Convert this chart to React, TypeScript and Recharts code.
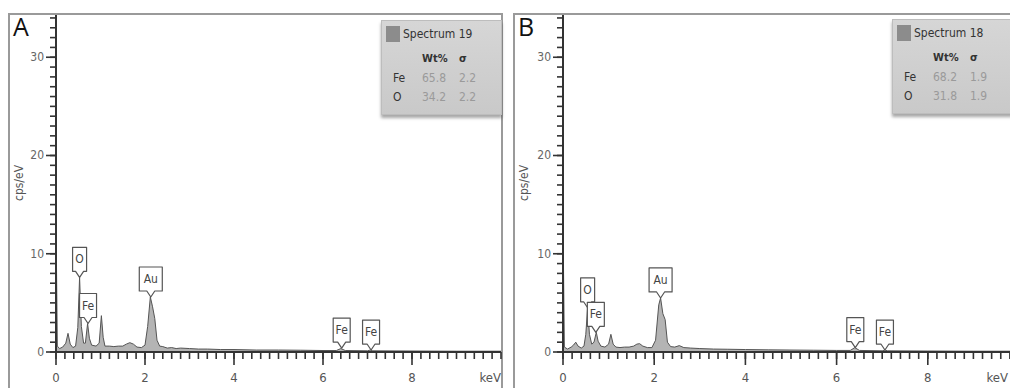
import React from 'react';
import { AreaChart, Area, XAxis, YAxis, ReferenceDot } from 'recharts';

// EDS spectra, [keV, cps/eV]
const spectrumA: [number, number][] = [
  [0, 0], [0.01, 9.2], [0.03, 0.6], [0.08, 0.35], [0.15, 0.5], [0.22, 0.9], [0.27, 1.9], [0.32, 0.8],
  [0.38, 0.45], [0.44, 0.6], [0.49, 2.5], [0.53, 7.6], [0.57, 2.6], [0.62, 0.9], [0.66, 0.9], [0.71, 2.9],
  [0.75, 1.4], [0.8, 0.7], [0.9, 0.6], [0.97, 0.9], [1.02, 3.7], [1.06, 1.5], [1.1, 0.6], [1.2, 0.6],
  [1.3, 0.55], [1.4, 0.6], [1.5, 0.6], [1.58, 0.8], [1.66, 0.95], [1.74, 0.8], [1.82, 0.5], [1.92, 0.45],
  [2.0, 0.7], [2.06, 2.6], [2.12, 5.6], [2.17, 4.6], [2.22, 3.4], [2.27, 1.2], [2.33, 0.6], [2.4, 0.55],
  [2.5, 0.4], [2.6, 0.45], [2.7, 0.35], [2.8, 0.4], [3.0, 0.35], [3.2, 0.3], [3.4, 0.3], [3.7, 0.25],
  [4.0, 0.25], [4.5, 0.2], [5.0, 0.2], [5.5, 0.18], [6.0, 0.15], [6.3, 0.15], [6.4, 0.35], [6.5, 0.15],
  [7.0, 0.12], [7.06, 0.2], [7.12, 0.12], [8.0, 0.1], [9.0, 0.08], [10, 0.08],
];

const spectrumB: [number, number][] = [
  [0, 0], [0.01, 9.0], [0.03, 0.5], [0.1, 0.3], [0.18, 0.5], [0.23, 0.7], [0.28, 1.0], [0.33, 0.6],
  [0.4, 0.4], [0.46, 0.6], [0.5, 1.8], [0.54, 4.5], [0.58, 1.8], [0.63, 0.8], [0.68, 1.0], [0.73, 2.0],
  [0.77, 1.1], [0.83, 0.6], [0.92, 0.5], [1.0, 0.8], [1.05, 1.8], [1.1, 0.8], [1.16, 0.5], [1.25, 0.45],
  [1.35, 0.5], [1.45, 0.5], [1.55, 0.6], [1.62, 0.8], [1.68, 0.85], [1.75, 0.6], [1.85, 0.45], [1.95, 0.45],
  [2.03, 1.2], [2.1, 4.8], [2.14, 5.5], [2.19, 3.9], [2.24, 3.3], [2.29, 1.0], [2.36, 0.55], [2.45, 0.5],
  [2.55, 0.65], [2.65, 0.45], [2.8, 0.4], [3.0, 0.35], [3.3, 0.3], [3.6, 0.28], [4.0, 0.25], [4.5, 0.22],
  [5.0, 0.2], [5.5, 0.18], [6.0, 0.16], [6.3, 0.16], [6.4, 0.45], [6.5, 0.16], [7.0, 0.12], [7.06, 0.2],
  [7.12, 0.12], [8.0, 0.1], [9.0, 0.08], [10, 0.08],
];

// peak labels: [keV, cps/eV, element]
const peaksA: [number, number, string][] = [
  [0.53, 7.6, 'O'], [0.72, 2.9, 'Fe'], [2.13, 5.6, 'Au'], [6.42, 0.4, 'Fe'], [7.08, 0.2, 'Fe'],
];
const peaksB: [number, number, string][] = [
  [0.54, 4.5, 'O'], [0.72, 2.0, 'Fe'], [2.14, 5.5, 'Au'], [6.41, 0.45, 'Fe'], [7.06, 0.2, 'Fe'],
];

const quantA = { name: 'Spectrum 19', rows: [['Fe', '65.8', '2.2'], ['O', '34.2', '2.2']] };
const quantB = { name: 'Spectrum 18', rows: [['Fe', '68.2', '1.9'], ['O', '31.8', '1.9']] };

const xMajor = [0, 2, 4, 6, 8];
const yMajor = [0, 10, 20, 30];
const xTicks = Array.from({ length: 51 }, (_, i) => Math.round(i * 2) / 10);
const yTicks = Array.from({ length: 35 }, (_, i) => i);

const FONT = "'Liberation Sans Narrow', 'DejaVu Sans Condensed', 'Open Sans', sans-serif";
const INK = '#333';

// recharts draws the short tick; majors get an extra stretch here
const XTick = (props: any) => {
  const { x, y, payload, unitShift } = props;
  const v = payload.value;
  const major = xMajor.includes(v);
  return (
    <g>
      {major && <rect x={x - 0.8} y={y - 7} width={1.6} height={13} fill={INK} />}
      {major && (
        <text x={x} y={y + 23} textAnchor="middle" fontSize={13} fill="#555" fontFamily={FONT}>
          {v}
        </text>
      )}
      {v === 10 && (
        <text x={x - (unitShift || 0)} y={y + 23} textAnchor="end" fontSize={13} fill="#555" fontFamily={FONT}>
          keV
        </text>
      )}
    </g>
  );
};

const YTick = (props: any) => {
  const { x, y, payload } = props;
  const v = payload.value;
  const major = yMajor.includes(v);
  return (
    <g>
      {major && <rect x={x - 4} y={y - 0.8} width={10} height={1.6} fill={INK} />}
      {major && (
        <text x={x - 6} y={y + 4} textAnchor="end" fontSize={12} fill="#666" fontFamily={FONT}>
          {v}
        </text>
      )}
    </g>
  );
};

const Callout = (props: any) => {
  const { cx, cy, label } = props;
  if (cx == null || cy == null) return null;
  const w = label === 'O' ? 14 : label === 'Au' ? 23 : 17;
  const h = 24;
  const p = 6;
  const x0 = cx - w / 2;
  const x1 = cx + w / 2;
  const yb = cy - p;
  const yt = yb - h;
  const d = `M${x0},${yt} H${x1} V${yb} H${cx + 4} L${cx},${cy} L${cx - 4},${yb} H${x0} Z`;
  return (
    <g>
      <path d={d} fill="#fff" stroke="#555" strokeWidth={1.2} strokeLinejoin="round" />
      <text x={cx} y={yt + h / 2 + 4} textAnchor="middle" fontSize={12} fill="#444" fontFamily={FONT}>
        {label}
      </text>
    </g>
  );
};

type SpectrumProps = {
  data: [number, number][];
  peaks: [number, number, string][];
  width: number;
  unitShift?: number;
};

const Spectrum = ({ data, peaks, width, unitShift = 0 }: SpectrumProps) => {
  const rows = data.map(([kev, cps]) => ({ kev, cps }));
  return (
    <AreaChart width={width} height={388} data={rows} margin={{ top: 15, right: 1, bottom: 0, left: 0 }}>
      <XAxis
        dataKey="kev"
        type="number"
        domain={[0, 10]}
        ticks={xTicks}
        interval={0}
        allowDataOverflow
        height={36}
        tickSize={7}
        tickMargin={0}
        tickLine={{ stroke: INK, strokeWidth: 1.6 }}
        axisLine={{ stroke: INK, strokeWidth: 2 }}
        tick={<XTick unitShift={unitShift} />}
      />
      <YAxis
        type="number"
        domain={[0, 34.3]}
        ticks={yTicks}
        interval={0}
        allowDataOverflow
        width={56}
        tickSize={6}
        tickMargin={0}
        tickLine={{ stroke: INK, strokeWidth: 1.6 }}
        axisLine={{ stroke: INK, strokeWidth: 2 }}
        tick={<YTick />}
      />
      <Area
        type="linear"
        dataKey="cps"
        stroke="#555"
        strokeWidth={1}
        fill="#b4b4b4"
        fillOpacity={1}
        isAnimationActive={false}
        dot={false}
        activeDot={false}
      />
      {peaks.map(([k, v, el], i) => (
        <ReferenceDot
          key={i}
          x={k}
          y={v}
          r={0}
          ifOverflow="visible"
          shape={(p: any) => <Callout {...p} label={el} />}
        />
      ))}
    </AreaChart>
  );
};

const Quant = ({ q, left, top }: { q: typeof quantA; left: number; top: number }) => (
  <div
    style={{
      position: 'absolute',
      left,
      top,
      width: 119,
      height: 93,
      background: 'linear-gradient(#d6d6d6, #c9c9c9)',
      border: '1px solid #bdbdbd',
      boxShadow: '0 3px 3px rgba(0,0,0,0.35)',
      fontFamily: FONT,
      color: '#333',
    }}
  >
    <div style={{ position: 'absolute', left: 4, top: 5, width: 14, height: 16, background: '#8c8c8c' }} />
    <div style={{ position: 'absolute', left: 21, top: 6, fontSize: 12 }}>{q.name}</div>
    <div style={{ position: 'absolute', left: 40, top: 31, fontSize: 11, fontWeight: 'bold' }}>Wt%</div>
    <div style={{ position: 'absolute', left: 77, top: 31, fontSize: 11, fontWeight: 'bold' }}>σ</div>
    {q.rows.map(([el, wt, s], i) => (
      <React.Fragment key={el}>
        <div style={{ position: 'absolute', left: 11, top: 50 + i * 19, fontSize: 12 }}>{el}</div>
        <div style={{ position: 'absolute', left: 40, top: 50 + i * 19, fontSize: 12, color: '#9a9a9a' }}>{wt}</div>
        <div style={{ position: 'absolute', left: 77, top: 50 + i * 19, fontSize: 12, color: '#9a9a9a' }}>{s}</div>
      </React.Fragment>
    ))}
  </div>
);

const frame = (left: number, width: number): React.CSSProperties => ({
  position: 'absolute',
  left,
  top: 13,
  width,
  height: 400,
  border: '2px solid #9a9a9a',
  boxSizing: 'border-box',
});

const panelLetter: React.CSSProperties = {
  position: 'absolute',
  fontFamily: "'Open Sans', sans-serif",
  fontSize: 25,
  color: '#111',
  lineHeight: '25px',
};

const yTitle: React.CSSProperties = {
  position: 'absolute',
  fontFamily: FONT,
  fontSize: 12,
  color: '#555',
  transform: 'rotate(-90deg)',
  transformOrigin: 'center',
  width: 60,
  textAlign: 'center',
};

export default function App() {
  return (
    <div style={{ position: 'absolute', left: 0, top: 0, width: 1010, height: 388, overflow: 'hidden', background: '#fff' }}>
      <div style={frame(8, 495)} />
      <div style={frame(513, 520)} />
      <div style={{ position: 'absolute', left: 0, top: 0 }}>
        <Spectrum data={spectrumA} peaks={peaksA} width={502} />
      </div>
      <div style={{ position: 'absolute', left: 507, top: 0 }}>
        <Spectrum data={spectrumB} peaks={peaksB} width={513} unitShift={11} />
      </div>
      <div style={{ ...panelLetter, left: 13, top: 14 }}>A</div>
      <div style={{ ...panelLetter, left: 518, top: 14 }}>B</div>
      <div style={{ ...yTitle, left: -11, top: 176 }}>cps/eV</div>
      <div style={{ ...yTitle, left: 494, top: 176 }}>cps/eV</div>
      <Quant q={quantA} left={381} top={20} />
      <Quant q={quantB} left={892} top={19} />
    </div>
  );
}
